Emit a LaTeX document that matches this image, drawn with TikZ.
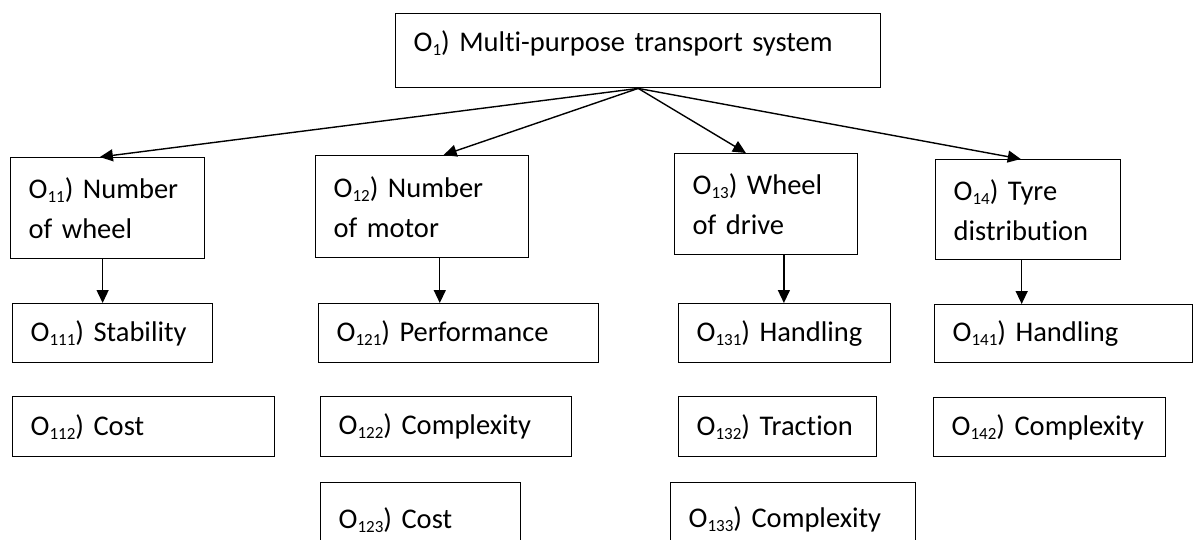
\documentclass[tikz,border=0pt]{standalone}
\usepackage{fontspec}
\setmainfont{Carlito}[Ligatures=NoCommon]
\usetikzlibrary{calc,arrows.meta}
\newcommand{\obj}[1]{O\raisebox{-4pt}{\fontsize{17pt}{17pt}\selectfont #1})}

\begin{document}
\begin{tikzpicture}[x=1pt,y=-1pt,
  box/.style={draw,line width=1.4pt,anchor=north west,align=left,inner xsep=18pt,inner ysep=0pt,
    font=\fontsize{28.5pt}{40pt}\selectfont,execute at begin node={\hyphenpenalty=10000}},
  arr/.style={line width=1.4pt,-{Triangle[length=13pt,width=12pt]}}]
\useasboundingbox (0,0) rectangle (1194,539);
% goal
\node (top) [box,text width=449pt,minimum height=74pt,text depth=19pt] at (395,13) {\obj{1} Multi-purpose transport system};
% level 1
\node (o11) [box,text width=158pt,minimum height=101pt] at (10,157) {\obj{11} Number\\of wheel};
\node (o12) [box,text width=177pt,minimum height=102pt] at (315,155) {\obj{12} Number\\of motor};
\node (o13) [box,text width=147pt,minimum height=101pt] at (674,153) {\obj{13} Wheel\\of drive};
\node (o14) [box,text width=149pt,minimum height=100pt] at (935,159) {\obj{14} Tyre\\distribution};
% level 2
\node (o111) [box,text width=164pt,minimum height=59pt] at (12,303) {\obj{111} Stability};
\node (o112) [box,text width=226pt,minimum height=60pt] at (12,396) {\obj{112} Cost};
\node (o121) [box,text width=244pt,minimum height=59pt] at (318,303) {\obj{121} Performance};
\node (o122) [box,text width=215pt,minimum height=60pt] at (320,396) {\obj{122} Complexity};
\node (o123) [box,text width=164pt,minimum height=74pt] at (320,482) {\obj{123} Cost};
\node (o131) [box,text width=176pt,minimum height=59pt] at (678,303) {\obj{131} Handling};
\node (o132) [box,text width=162pt,minimum height=60pt] at (678,396) {\obj{132} Traction};
\node (o133) [box,text width=209pt,minimum height=74pt] at (670,482) {\obj{133} Complexity};
\node (o141) [box,text width=222pt,minimum height=58pt] at (934,304) {\obj{141} Handling};
\node (o142) [box,text width=196pt,minimum height=59pt] at (933,397) {\obj{142} Complexity};
% arrows from the goal
\draw [arr] (top.south) -- ($(o11.north west)!0.46!(o11.north east)$);
\draw [arr] (top.south) -- ($(o12.north west)!0.6!(o12.north east)$);
\draw [arr] (top.south) -- ($(o13.north west)!0.39!(o13.north east)$);
\draw [arr] (top.south) -- ($(o14.north west)!0.46!(o14.north east)$);
% arrows down
\coordinate (d11) at ($(o11.south west)!0.474!(o11.south east)$);
\coordinate (d12) at ($(o12.south west)!0.582!(o12.south east)$);
\coordinate (d13) at ($(o13.south west)!0.596!(o13.south east)$);
\coordinate (d14) at ($(o14.south west)!0.465!(o14.south east)$);
\draw [arr] (d11) -- (d11 |- o111.north);
\draw [arr] (d12) -- (d12 |- o121.north);
\draw [arr] (d13) -- (d13 |- o131.north);
\draw [arr] (d14) -- (d14 |- o141.north);
\end{tikzpicture}
\end{document}
